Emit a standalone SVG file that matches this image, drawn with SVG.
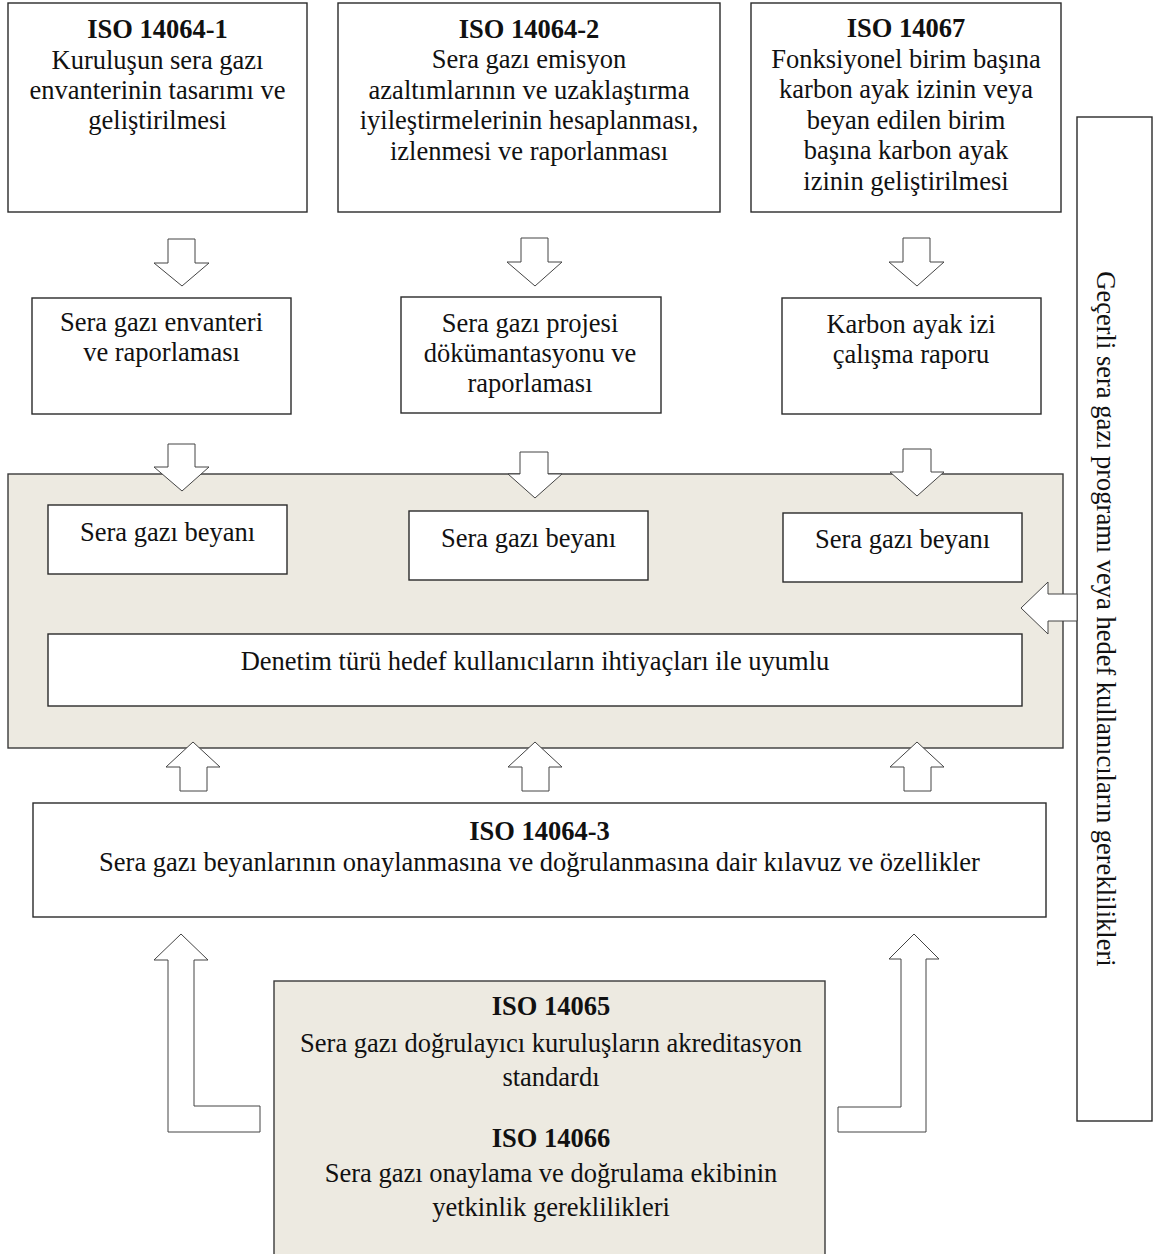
<svg xmlns="http://www.w3.org/2000/svg" width="1154" height="1254" viewBox="0 0 1154 1254">
  <defs>
    <style>
      .box { fill: #ffffff; stroke: #2a2a2a; stroke-width: 1.4; }
      .panel { fill: #EDEAE1; stroke: #3a3a3a; stroke-width: 1.4; }
      .arrow { fill: #ffffff; stroke: #444444; stroke-width: 1; stroke-linejoin: miter; }
      text { font-family: "Liberation Serif", "Times New Roman", serif; font-size: 26.5px; fill: #111111; text-anchor: middle; }
      .b { font-weight: bold; }
    </style>
  </defs>

  <rect width="1154" height="1254" fill="#ffffff"/>

  <!-- shaded panel holding the declarations -->
  <g id="panel-declarations">
    <rect class="panel" x="8" y="474" width="1055" height="274"/>
  </g>

  <!-- bottom shaded panel -->
  <g id="iso-14065-14066">
    <rect class="panel" x="274" y="981" width="551" height="290"/>
    <text class="b" x="551" y="1015">ISO 14065</text>
    <text x="551" y="1052">Sera gazı doğrulayıcı kuruluşların akreditasyon</text>
    <text x="551" y="1086">standardı</text>
    <text class="b" x="551" y="1147">ISO 14066</text>
    <text x="551" y="1182">Sera gazı onaylama ve doğrulama ekibinin</text>
    <text x="551" y="1216">yetkinlik gereklilikleri</text>
  </g>

  <!-- top row -->
  <g id="iso-14064-1">
    <rect class="box" x="8" y="3" width="299" height="209"/>
    <text class="b" x="157.5" y="38">ISO 14064-1</text>
    <text x="157.5" y="69">Kuruluşun sera gazı</text>
    <text x="157.5" y="99">envanterinin tasarımı ve</text>
    <text x="157.5" y="129">geliştirilmesi</text>
  </g>
  <g id="iso-14064-2">
    <rect class="box" x="338" y="3" width="382" height="209"/>
    <text class="b" x="529" y="38">ISO 14064-2</text>
    <text x="529" y="68">Sera gazı emisyon</text>
    <text x="529" y="99">azaltımlarının ve uzaklaştırma</text>
    <text x="529" y="129">iyileştirmelerinin hesaplanması,</text>
    <text x="529" y="160">izlenmesi ve raporlanması</text>
  </g>
  <g id="iso-14067">
    <rect class="box" x="751" y="3" width="310" height="209"/>
    <text class="b" x="906" y="37">ISO 14067</text>
    <text x="906" y="68">Fonksiyonel birim başına</text>
    <text x="906" y="98">karbon ayak izinin veya</text>
    <text x="906" y="129">beyan edilen birim</text>
    <text x="906" y="159">başına karbon ayak</text>
    <text x="906" y="190">izinin geliştirilmesi</text>
  </g>

  <!-- middle row -->
  <g id="inventory-report">
    <rect class="box" x="32" y="298" width="259" height="116"/>
    <text x="161.5" y="331">Sera gazı envanteri</text>
    <text x="161.5" y="361">ve raporlaması</text>
  </g>
  <g id="project-report">
    <rect class="box" x="401" y="297" width="260" height="116"/>
    <text x="530" y="332">Sera gazı projesi</text>
    <text x="530" y="362">dökümantasyonu ve</text>
    <text x="530" y="392">raporlaması</text>
  </g>
  <g id="footprint-report">
    <rect class="box" x="782" y="298" width="259" height="116"/>
    <text x="911" y="333">Karbon ayak izi</text>
    <text x="911" y="363">çalışma raporu</text>
  </g>

  <!-- declarations inside the panel -->
  <g id="declaration-1">
    <rect class="box" x="48" y="505" width="239" height="69"/>
    <text x="167.5" y="541">Sera gazı beyanı</text>
  </g>
  <g id="declaration-2">
    <rect class="box" x="409" y="511" width="239" height="69"/>
    <text x="528.5" y="547">Sera gazı beyanı</text>
  </g>
  <g id="declaration-3">
    <rect class="box" x="783" y="513" width="239" height="69"/>
    <text x="902.5" y="548">Sera gazı beyanı</text>
  </g>
  <g id="assurance-level">
    <rect class="box" x="48" y="634" width="974" height="72"/>
    <text x="535" y="670">Denetim türü hedef kullanıcıların ihtiyaçları ile uyumlu</text>
  </g>

  <!-- ISO 14064-3 -->
  <g id="iso-14064-3">
    <rect class="box" x="33" y="803" width="1013" height="114"/>
    <text class="b" x="539.5" y="840">ISO 14064-3</text>
    <text x="539.5" y="871">Sera gazı beyanlarının onaylanmasına ve doğrulanmasına dair kılavuz ve özellikler</text>
  </g>

  <!-- tall side box with vertical label -->
  <g id="programme-requirements">
    <rect class="box" x="1077" y="117" width="75" height="1004"/>
    <text transform="translate(1097 619) rotate(90)">Geçerli sera gazı programı veya hedef kullanıcıların gereklilikleri</text>
  </g>

  <!-- block arrows -->
  <g id="connectors">
    <!-- top row to middle row -->
    <polygon class="arrow" points="168,239 195,239 195,263 209,263 182,286 154,263 168,263"/>
    <polygon class="arrow" points="521,238 548,238 548,262 562,262 535,286 507,262 521,262"/>
    <polygon class="arrow" points="903,238 930,238 930,262 944,262 917,286 889,262 903,262"/>
    <!-- middle row into the panel -->
    <polygon class="arrow" points="168,444 195,444 195,467 209,467 182,491 154,467 168,467"/>
    <polygon class="arrow" points="520,452 548,452 548,474 562,474 535,498 508,474 520,474"/>
    <polygon class="arrow" points="903,449 931,449 931,472 944,472 917,496 890,472 903,472"/>
    <!-- ISO 14064-3 up into the panel -->
    <polygon class="arrow" points="180,791 207,791 207,767 220,767 193,742 166,767 180,767"/>
    <polygon class="arrow" points="522,791 549,791 549,767 562,767 535,742 508,767 522,767"/>
    <polygon class="arrow" points="904,791 931,791 931,767 944,767 917,742 890,767 904,767"/>
    <!-- side box into the panel -->
    <polygon class="arrow" points="1077,594 1048,594 1048,582 1021,608 1048,634 1048,621 1077,621"/>
    <!-- bent arrows from the bottom panel -->
    <polygon class="arrow" points="181,934 208,960 194,960 194,1106 260,1106 260,1132 168,1132 168,960 154,960"/>
    <polygon class="arrow" points="914,934 939,959 926,959 926,1132 838,1132 838,1107 901,1107 901,959 889,959"/>
  </g>
</svg>
